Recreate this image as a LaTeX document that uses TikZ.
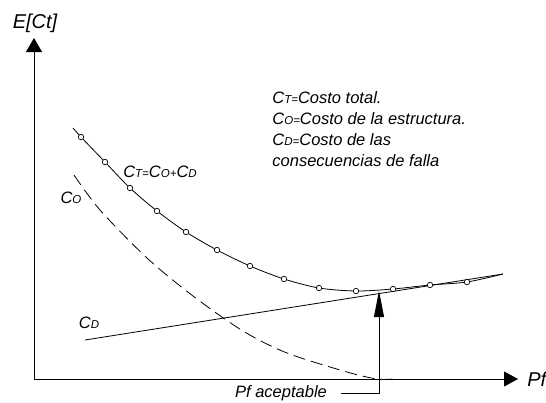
\documentclass[tikz,border=0pt]{standalone}
\usepackage{fontspec}
\setmainfont{Liberation Sans}
\usetikzlibrary{arrows.meta}
\newcommand{\sm}[1]{{\fontsize{11.5}{12}\selectfont #1}}

\begin{document}
\begin{tikzpicture}[x=1pt,y=-1pt,line width=0.8pt,
        lbl/.style={font=\fontsize{16.5}{21}\selectfont\itshape, inner sep=0pt},
        big/.style={font=\fontsize{20}{24}\selectfont\itshape, inner sep=0pt},
        pt/.style={circle,draw,fill=white,inner sep=0pt,minimum size=5.5pt,line width=0.7pt}]
        \useasboundingbox (0,0) rectangle (546,402);

        \coordinate (orig) at (34,379);
        \coordinate (ytop) at (34,38);
        \coordinate (xend) at (518,379);
        \draw[-{Triangle[length=14pt,width=16pt]}] (orig) -- (ytop);
        \draw[-{Triangle[length=14pt,width=15pt]}] (orig) -- (xend);
        \node[big] (ect) at (35,23) {E[Ct]};
        \node[big,anchor=west] (pf) at (527,379) {Pf};

        % estructura
        \draw[dash pattern=on 12pt off 6pt] plot [smooth] coordinates {(74,175) (100,210) (147,258) (193,296) (243,331) (287,353) (347,372) (377,379) (393,379)};
        % consecuencias
        \draw (85,340) -- (503,274);
        % total
        \draw plot [smooth] coordinates {(73,128) (81,137) (105,162) (130,188) (157,211) (186,232) (217,250) (250,266) (284,279) (319,288) (356,291) (393,289) (430,285) (467,282) (503,274)};
        \foreach \x/\y [count=\i] in {81/137,105/162,130/188,157/211,186/232,217/250,250/266,284/279,319/288,356/291,393/289,430/285,467/282}
            \node[pt] (c\i) at (\x,\y) {};

        \node[lbl] (ct) at (160,172) {C\sm{T=}C\sm{O+}C\sm{D}};
        \node[lbl] (co) at (71,198) {C\sm{O}};
        \node[lbl] (cd) at (89,323) {C\sm{D}};

        \node[lbl,anchor=west,align=left] (leg) at (272,129) {C\sm{T=}Costo total.\\C\sm{O=}Costo de la estructura.\\C\sm{D=}Costo de las\\consecuencias de falla};

        \node[lbl] (acep) at (281,393) {Pf aceptable};
        \coordinate (opt) at (379,291);
        \draw[-{Triangle[length=26pt,width=10pt]}] ([xshift=14pt]acep.east) -| (opt);
    \end{tikzpicture}
\end{document}
